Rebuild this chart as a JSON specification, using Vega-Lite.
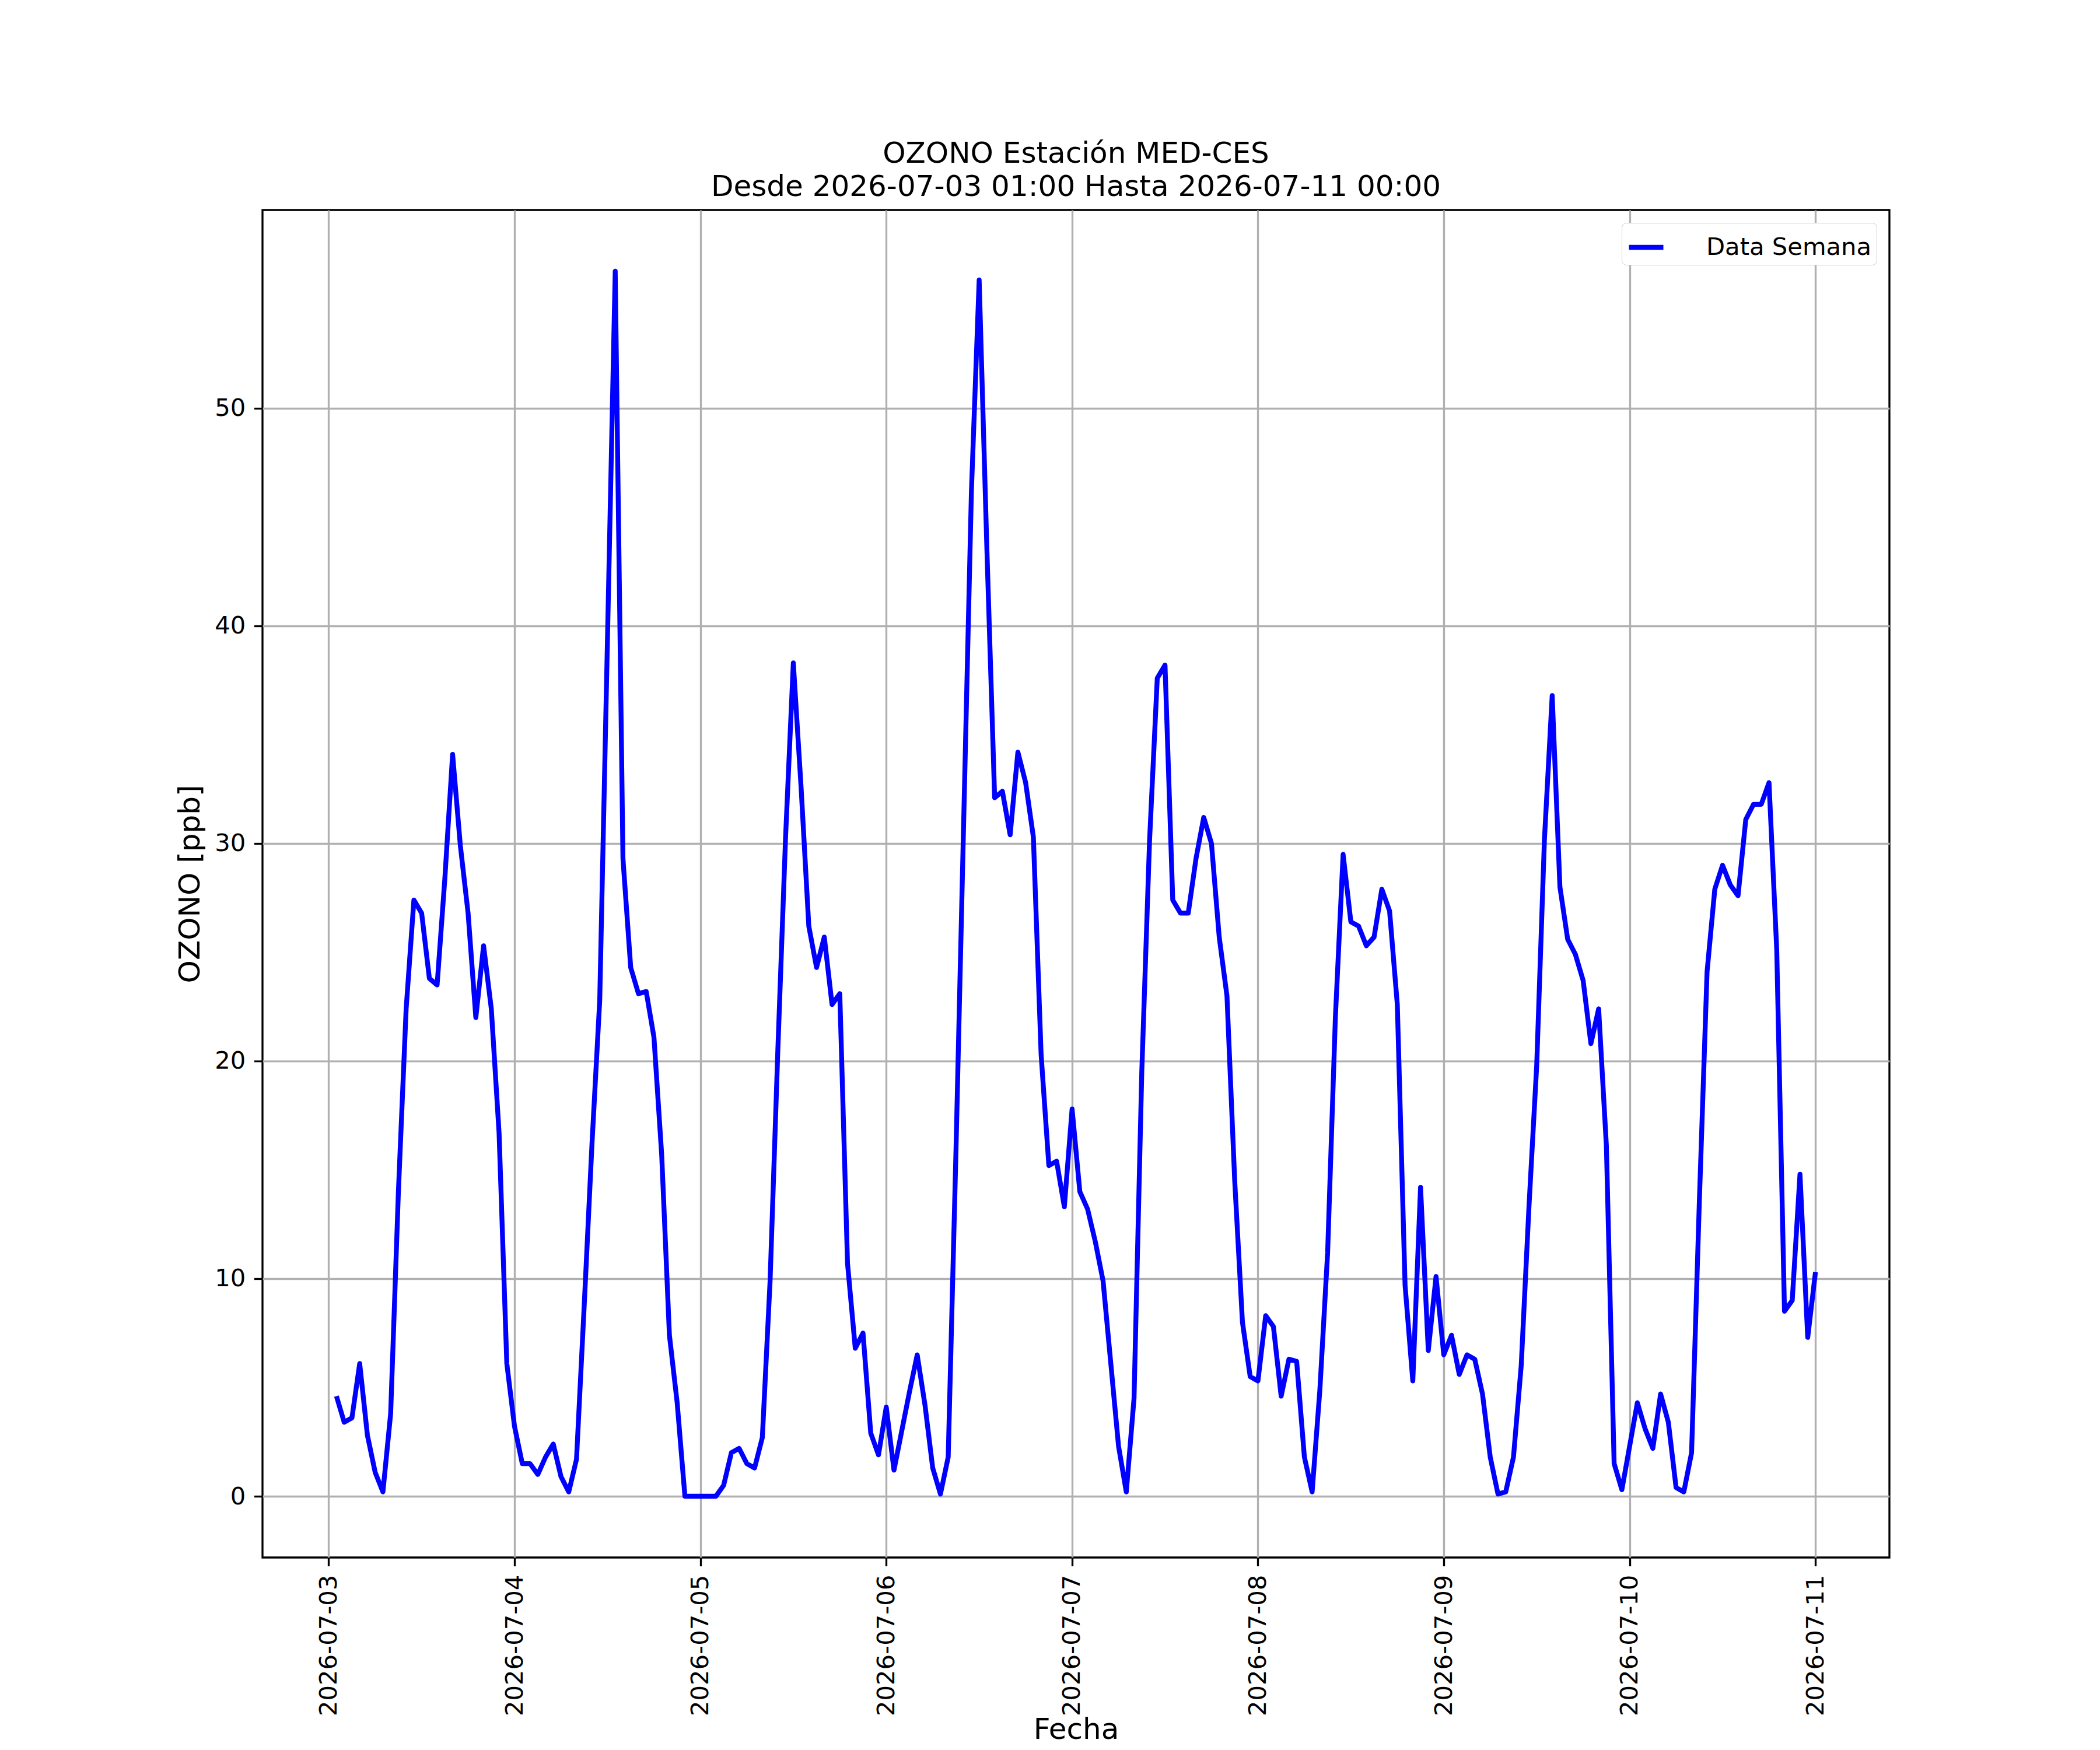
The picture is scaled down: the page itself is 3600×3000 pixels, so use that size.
{
  "$schema": "https://vega.github.io/schema/vega-lite/v6.json",
  "description": "OZONO Estacion MED-CES, datos horarios de una semana",
  "autosize": {"type": "none"},
  "width": 2789,
  "height": 2310,
  "padding": {"left": 450, "top": 360, "right": 361, "bottom": 330},
  "background": "white",
  "title": {
    "text": ["OZONO Estación MED-CES", "Desde 2026-07-03 01:00 Hasta 2026-07-11 00:00"],
    "anchor": "middle",
    "frame": "group",
    "font": "DejaVu Sans",
    "fontSize": 50,
    "fontWeight": "normal",
    "color": "black",
    "lineHeight": 57,
    "offset": 14
  },
  "data": {
    "values": [
      {"fecha": "2026-07-03T01:00:00", "ozono": 4.6},
      {"fecha": "2026-07-03T02:00:00", "ozono": 3.4},
      {"fecha": "2026-07-03T03:00:00", "ozono": 3.6},
      {"fecha": "2026-07-03T04:00:00", "ozono": 6.1},
      {"fecha": "2026-07-03T05:00:00", "ozono": 2.8},
      {"fecha": "2026-07-03T06:00:00", "ozono": 1.1},
      {"fecha": "2026-07-03T07:00:00", "ozono": 0.2},
      {"fecha": "2026-07-03T08:00:00", "ozono": 3.8},
      {"fecha": "2026-07-03T09:00:00", "ozono": 14.0},
      {"fecha": "2026-07-03T10:00:00", "ozono": 22.4},
      {"fecha": "2026-07-03T11:00:00", "ozono": 27.4},
      {"fecha": "2026-07-03T12:00:00", "ozono": 26.8},
      {"fecha": "2026-07-03T13:00:00", "ozono": 23.8},
      {"fecha": "2026-07-03T14:00:00", "ozono": 23.5},
      {"fecha": "2026-07-03T15:00:00", "ozono": 28.4},
      {"fecha": "2026-07-03T16:00:00", "ozono": 34.1},
      {"fecha": "2026-07-03T17:00:00", "ozono": 29.9},
      {"fecha": "2026-07-03T18:00:00", "ozono": 26.8},
      {"fecha": "2026-07-03T19:00:00", "ozono": 22.0},
      {"fecha": "2026-07-03T20:00:00", "ozono": 25.3},
      {"fecha": "2026-07-03T21:00:00", "ozono": 22.4},
      {"fecha": "2026-07-03T22:00:00", "ozono": 16.7},
      {"fecha": "2026-07-03T23:00:00", "ozono": 6.1},
      {"fecha": "2026-07-04T00:00:00", "ozono": 3.2},
      {"fecha": "2026-07-04T01:00:00", "ozono": 1.5},
      {"fecha": "2026-07-04T02:00:00", "ozono": 1.5},
      {"fecha": "2026-07-04T03:00:00", "ozono": 1.0},
      {"fecha": "2026-07-04T04:00:00", "ozono": 1.8},
      {"fecha": "2026-07-04T05:00:00", "ozono": 2.4},
      {"fecha": "2026-07-04T06:00:00", "ozono": 0.9},
      {"fecha": "2026-07-04T07:00:00", "ozono": 0.2},
      {"fecha": "2026-07-04T08:00:00", "ozono": 1.7},
      {"fecha": "2026-07-04T09:00:00", "ozono": 8.8},
      {"fecha": "2026-07-04T10:00:00", "ozono": 16.2},
      {"fecha": "2026-07-04T11:00:00", "ozono": 22.8},
      {"fecha": "2026-07-04T12:00:00", "ozono": 39.4},
      {"fecha": "2026-07-04T13:00:00", "ozono": 56.3},
      {"fecha": "2026-07-04T14:00:00", "ozono": 29.3},
      {"fecha": "2026-07-04T15:00:00", "ozono": 24.3},
      {"fecha": "2026-07-04T16:00:00", "ozono": 23.1},
      {"fecha": "2026-07-04T17:00:00", "ozono": 23.2},
      {"fecha": "2026-07-04T18:00:00", "ozono": 21.1},
      {"fecha": "2026-07-04T19:00:00", "ozono": 15.7},
      {"fecha": "2026-07-04T20:00:00", "ozono": 7.4},
      {"fecha": "2026-07-04T21:00:00", "ozono": 4.3},
      {"fecha": "2026-07-04T22:00:00", "ozono": 0.0},
      {"fecha": "2026-07-04T23:00:00", "ozono": 0.0},
      {"fecha": "2026-07-05T00:00:00", "ozono": 0.0},
      {"fecha": "2026-07-05T01:00:00", "ozono": 0.0},
      {"fecha": "2026-07-05T02:00:00", "ozono": 0.0},
      {"fecha": "2026-07-05T03:00:00", "ozono": 0.5},
      {"fecha": "2026-07-05T04:00:00", "ozono": 2.0},
      {"fecha": "2026-07-05T05:00:00", "ozono": 2.2},
      {"fecha": "2026-07-05T06:00:00", "ozono": 1.5},
      {"fecha": "2026-07-05T07:00:00", "ozono": 1.3},
      {"fecha": "2026-07-05T08:00:00", "ozono": 2.7},
      {"fecha": "2026-07-05T09:00:00", "ozono": 9.9},
      {"fecha": "2026-07-05T10:00:00", "ozono": 20.5},
      {"fecha": "2026-07-05T11:00:00", "ozono": 30.3},
      {"fecha": "2026-07-05T12:00:00", "ozono": 38.3},
      {"fecha": "2026-07-05T13:00:00", "ozono": 32.6},
      {"fecha": "2026-07-05T14:00:00", "ozono": 26.2},
      {"fecha": "2026-07-05T15:00:00", "ozono": 24.3},
      {"fecha": "2026-07-05T16:00:00", "ozono": 25.7},
      {"fecha": "2026-07-05T17:00:00", "ozono": 22.6},
      {"fecha": "2026-07-05T18:00:00", "ozono": 23.1},
      {"fecha": "2026-07-05T19:00:00", "ozono": 10.7},
      {"fecha": "2026-07-05T20:00:00", "ozono": 6.8},
      {"fecha": "2026-07-05T21:00:00", "ozono": 7.5},
      {"fecha": "2026-07-05T22:00:00", "ozono": 2.9},
      {"fecha": "2026-07-05T23:00:00", "ozono": 1.9},
      {"fecha": "2026-07-06T00:00:00", "ozono": 4.1},
      {"fecha": "2026-07-06T01:00:00", "ozono": 1.2},
      {"fecha": "2026-07-06T02:00:00", "ozono": 3.0},
      {"fecha": "2026-07-06T03:00:00", "ozono": 4.8},
      {"fecha": "2026-07-06T04:00:00", "ozono": 6.5},
      {"fecha": "2026-07-06T05:00:00", "ozono": 4.2},
      {"fecha": "2026-07-06T06:00:00", "ozono": 1.3},
      {"fecha": "2026-07-06T07:00:00", "ozono": 0.1},
      {"fecha": "2026-07-06T08:00:00", "ozono": 1.8},
      {"fecha": "2026-07-06T09:00:00", "ozono": 15.8},
      {"fecha": "2026-07-06T10:00:00", "ozono": 31.0},
      {"fecha": "2026-07-06T11:00:00", "ozono": 46.2},
      {"fecha": "2026-07-06T12:00:00", "ozono": 55.9},
      {"fecha": "2026-07-06T13:00:00", "ozono": 43.5},
      {"fecha": "2026-07-06T14:00:00", "ozono": 32.1},
      {"fecha": "2026-07-06T15:00:00", "ozono": 32.4},
      {"fecha": "2026-07-06T16:00:00", "ozono": 30.4},
      {"fecha": "2026-07-06T17:00:00", "ozono": 34.2},
      {"fecha": "2026-07-06T18:00:00", "ozono": 32.8},
      {"fecha": "2026-07-06T19:00:00", "ozono": 30.3},
      {"fecha": "2026-07-06T20:00:00", "ozono": 20.3},
      {"fecha": "2026-07-06T21:00:00", "ozono": 15.2},
      {"fecha": "2026-07-06T22:00:00", "ozono": 15.4},
      {"fecha": "2026-07-06T23:00:00", "ozono": 13.3},
      {"fecha": "2026-07-07T00:00:00", "ozono": 17.8},
      {"fecha": "2026-07-07T01:00:00", "ozono": 14.0},
      {"fecha": "2026-07-07T02:00:00", "ozono": 13.2},
      {"fecha": "2026-07-07T03:00:00", "ozono": 11.7},
      {"fecha": "2026-07-07T04:00:00", "ozono": 9.9},
      {"fecha": "2026-07-07T05:00:00", "ozono": 6.1},
      {"fecha": "2026-07-07T06:00:00", "ozono": 2.3},
      {"fecha": "2026-07-07T07:00:00", "ozono": 0.2},
      {"fecha": "2026-07-07T08:00:00", "ozono": 4.5},
      {"fecha": "2026-07-07T09:00:00", "ozono": 19.5},
      {"fecha": "2026-07-07T10:00:00", "ozono": 30.1},
      {"fecha": "2026-07-07T11:00:00", "ozono": 37.6},
      {"fecha": "2026-07-07T12:00:00", "ozono": 38.2},
      {"fecha": "2026-07-07T13:00:00", "ozono": 27.4},
      {"fecha": "2026-07-07T14:00:00", "ozono": 26.8},
      {"fecha": "2026-07-07T15:00:00", "ozono": 26.8},
      {"fecha": "2026-07-07T16:00:00", "ozono": 29.3},
      {"fecha": "2026-07-07T17:00:00", "ozono": 31.2},
      {"fecha": "2026-07-07T18:00:00", "ozono": 30.0},
      {"fecha": "2026-07-07T19:00:00", "ozono": 25.7},
      {"fecha": "2026-07-07T20:00:00", "ozono": 23.0},
      {"fecha": "2026-07-07T21:00:00", "ozono": 14.5},
      {"fecha": "2026-07-07T22:00:00", "ozono": 8.0},
      {"fecha": "2026-07-07T23:00:00", "ozono": 5.5},
      {"fecha": "2026-07-08T00:00:00", "ozono": 5.3},
      {"fecha": "2026-07-08T01:00:00", "ozono": 8.3},
      {"fecha": "2026-07-08T02:00:00", "ozono": 7.8},
      {"fecha": "2026-07-08T03:00:00", "ozono": 4.6},
      {"fecha": "2026-07-08T04:00:00", "ozono": 6.3},
      {"fecha": "2026-07-08T05:00:00", "ozono": 6.2},
      {"fecha": "2026-07-08T06:00:00", "ozono": 1.8},
      {"fecha": "2026-07-08T07:00:00", "ozono": 0.2},
      {"fecha": "2026-07-08T08:00:00", "ozono": 4.9},
      {"fecha": "2026-07-08T09:00:00", "ozono": 11.2},
      {"fecha": "2026-07-08T10:00:00", "ozono": 22.0},
      {"fecha": "2026-07-08T11:00:00", "ozono": 29.5},
      {"fecha": "2026-07-08T12:00:00", "ozono": 26.4},
      {"fecha": "2026-07-08T13:00:00", "ozono": 26.2},
      {"fecha": "2026-07-08T14:00:00", "ozono": 25.3},
      {"fecha": "2026-07-08T15:00:00", "ozono": 25.7},
      {"fecha": "2026-07-08T16:00:00", "ozono": 27.9},
      {"fecha": "2026-07-08T17:00:00", "ozono": 26.9},
      {"fecha": "2026-07-08T18:00:00", "ozono": 22.6},
      {"fecha": "2026-07-08T19:00:00", "ozono": 9.7},
      {"fecha": "2026-07-08T20:00:00", "ozono": 5.3},
      {"fecha": "2026-07-08T21:00:00", "ozono": 14.2},
      {"fecha": "2026-07-08T22:00:00", "ozono": 6.7},
      {"fecha": "2026-07-08T23:00:00", "ozono": 10.1},
      {"fecha": "2026-07-09T00:00:00", "ozono": 6.5},
      {"fecha": "2026-07-09T01:00:00", "ozono": 7.4},
      {"fecha": "2026-07-09T02:00:00", "ozono": 5.6},
      {"fecha": "2026-07-09T03:00:00", "ozono": 6.5},
      {"fecha": "2026-07-09T04:00:00", "ozono": 6.3},
      {"fecha": "2026-07-09T05:00:00", "ozono": 4.7},
      {"fecha": "2026-07-09T06:00:00", "ozono": 1.8},
      {"fecha": "2026-07-09T07:00:00", "ozono": 0.1},
      {"fecha": "2026-07-09T08:00:00", "ozono": 0.2},
      {"fecha": "2026-07-09T09:00:00", "ozono": 1.8},
      {"fecha": "2026-07-09T10:00:00", "ozono": 6.0},
      {"fecha": "2026-07-09T11:00:00", "ozono": 13.3},
      {"fecha": "2026-07-09T12:00:00", "ozono": 19.8},
      {"fecha": "2026-07-09T13:00:00", "ozono": 30.2},
      {"fecha": "2026-07-09T14:00:00", "ozono": 36.8},
      {"fecha": "2026-07-09T15:00:00", "ozono": 28.0},
      {"fecha": "2026-07-09T16:00:00", "ozono": 25.6},
      {"fecha": "2026-07-09T17:00:00", "ozono": 24.9},
      {"fecha": "2026-07-09T18:00:00", "ozono": 23.7},
      {"fecha": "2026-07-09T19:00:00", "ozono": 20.8},
      {"fecha": "2026-07-09T20:00:00", "ozono": 22.4},
      {"fecha": "2026-07-09T21:00:00", "ozono": 16.1},
      {"fecha": "2026-07-09T22:00:00", "ozono": 1.5},
      {"fecha": "2026-07-09T23:00:00", "ozono": 0.3},
      {"fecha": "2026-07-10T00:00:00", "ozono": 2.3},
      {"fecha": "2026-07-10T01:00:00", "ozono": 4.3},
      {"fecha": "2026-07-10T02:00:00", "ozono": 3.1},
      {"fecha": "2026-07-10T03:00:00", "ozono": 2.2},
      {"fecha": "2026-07-10T04:00:00", "ozono": 4.7},
      {"fecha": "2026-07-10T05:00:00", "ozono": 3.4},
      {"fecha": "2026-07-10T06:00:00", "ozono": 0.4},
      {"fecha": "2026-07-10T07:00:00", "ozono": 0.2},
      {"fecha": "2026-07-10T08:00:00", "ozono": 2.0},
      {"fecha": "2026-07-10T09:00:00", "ozono": 13.5},
      {"fecha": "2026-07-10T10:00:00", "ozono": 24.1},
      {"fecha": "2026-07-10T11:00:00", "ozono": 27.9},
      {"fecha": "2026-07-10T12:00:00", "ozono": 29.0},
      {"fecha": "2026-07-10T13:00:00", "ozono": 28.1},
      {"fecha": "2026-07-10T14:00:00", "ozono": 27.6},
      {"fecha": "2026-07-10T15:00:00", "ozono": 31.1},
      {"fecha": "2026-07-10T16:00:00", "ozono": 31.8},
      {"fecha": "2026-07-10T17:00:00", "ozono": 31.8},
      {"fecha": "2026-07-10T18:00:00", "ozono": 32.8},
      {"fecha": "2026-07-10T19:00:00", "ozono": 25.1},
      {"fecha": "2026-07-10T20:00:00", "ozono": 8.5},
      {"fecha": "2026-07-10T21:00:00", "ozono": 9.0},
      {"fecha": "2026-07-10T22:00:00", "ozono": 14.8},
      {"fecha": "2026-07-10T23:00:00", "ozono": 7.3},
      {"fecha": "2026-07-11T00:00:00", "ozono": 10.3}
    ]
  },
  "mark": {
    "type": "line",
    "strokeWidth": 8.33,
    "strokeJoin": "round",
    "clip": true
  },
  "encoding": {
    "x": {
      "field": "fecha",
      "type": "temporal",
      "title": "Fecha",
      "scale": {
        "domain": [
          {"year": 2026, "month": 7, "date": 2, "hours": 15, "minutes": 27},
          {"year": 2026, "month": 7, "date": 11, "hours": 9, "minutes": 33}
        ],
        "nice": false
      },
      "axis": {
        "values": [
          {"year": 2026, "month": 7, "date": 3},
          {"year": 2026, "month": 7, "date": 4},
          {"year": 2026, "month": 7, "date": 5},
          {"year": 2026, "month": 7, "date": 6},
          {"year": 2026, "month": 7, "date": 7},
          {"year": 2026, "month": 7, "date": 8},
          {"year": 2026, "month": 7, "date": 9},
          {"year": 2026, "month": 7, "date": 10},
          {"year": 2026, "month": 7, "date": 11}
        ],
        "format": "%Y-%m-%d",
        "labelAngle": 270,
        "labelAlign": "right",
        "labelBaseline": "middle",
        "titleBaseline": "top",
        "titleY": 270
      }
    },
    "y": {
      "field": "ozono",
      "type": "quantitative",
      "title": "OZONO [ppb]",
      "scale": {"domain": [-2.815, 59.115], "nice": false, "zero": false},
      "axis": {
        "values": [0, 10, 20, 30, 40, 50],
        "format": "d",
        "titlePadding": 16
      }
    },
    "color": {
      "datum": "Data Semana",
      "type": "nominal",
      "scale": {"range": ["#0000ff"]},
      "legend": {
        "title": null,
        "orient": "top-right",
        "offset": 22,
        "padding": 8,
        "fillColor": "white",
        "strokeColor": "#cccccc",
        "cornerRadius": 8,
        "symbolType": "stroke",
        "symbolStrokeWidth": 8.33,
        "symbolSize": 3481,
        "labelOffset": 69,
        "labelLimit": 0,
        "labelFont": "DejaVu Sans",
        "labelFontSize": 41.7,
        "labelColor": "black"
      }
    }
  },
  "config": {
    "font": "DejaVu Sans",
    "view": {"stroke": "black", "strokeWidth": 3.33},
    "axis": {
      "domain": false,
      "grid": true,
      "gridColor": "#b0b0b0",
      "gridWidth": 3.33,
      "ticks": true,
      "tickColor": "black",
      "tickWidth": 3.33,
      "tickSize": 14.6,
      "labelFont": "DejaVu Sans",
      "labelFontSize": 41.7,
      "labelColor": "black",
      "labelPadding": 14.6,
      "labelLimit": 0,
      "labelOverlap": false,
      "labelFlush": false,
      "titleFont": "DejaVu Sans",
      "titleFontSize": 50,
      "titleFontWeight": "normal",
      "titleColor": "black"
    }
  }
}
